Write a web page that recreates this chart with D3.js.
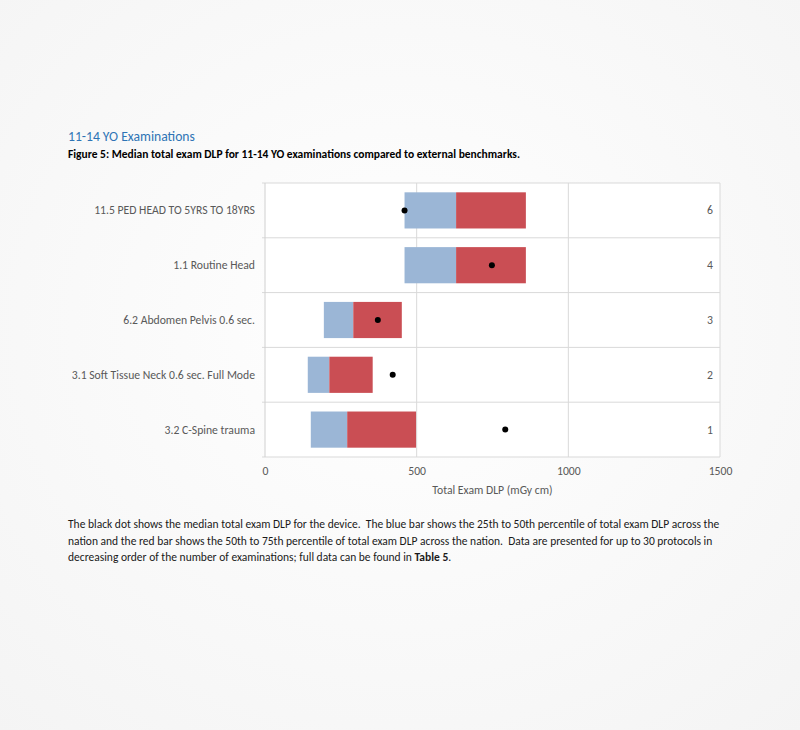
<!DOCTYPE html>
<html>
<head>
<meta charset="utf-8">
<script src="https://cdn.jsdelivr.net/npm/d3@7"></script>
<style>
html,body{margin:0;padding:0;background:#fafafa;}
svg{display:block;}
</style>
</head>
<body>
<svg id="c" width="800" height="730"></svg>
<script>
const categories = ["11.5 PED HEAD TO 5YRS TO 18YRS","1.1 Routine Head","6.2 Abdomen Pelvis 0.6 sec.","3.1 Soft Tissue Neck 0.6 sec. Full Mode","3.2 C-Spine trauma"];
const p25 = [460, 460, 194, 141, 151];
const p50 = [630, 630, 291, 212, 271];
const p75 = [860, 860, 451, 355, 498];
const medianDevice = [460, 748, 372, 421, 792];
const counts = [6, 4, 3, 2, 1];
const xTicks = [0, 500, 1000, 1500];

(function(){
const FONT = "Carlito, Calibri, 'Open Sans', 'Noto Sans', sans-serif";
const CFS = 11.7;
const svg = d3.select("#c");

const defs = svg.append("defs");
const rg = defs.append("radialGradient").attr("id","bg").attr("cx","50%").attr("cy","45%").attr("r","75%");
rg.append("stop").attr("offset","0%").attr("stop-color","#ffffff");
rg.append("stop").attr("offset","100%").attr("stop-color","#f4f4f4");
svg.append("rect").attr("width",800).attr("height",730).attr("fill","url(#bg)");

function fit(sel, w){
  const n = sel.node();
  const fs = parseFloat(sel.attr("font-size"));
  const m = n.getComputedTextLength();
  let nf = fs;
  if (m > 0) { nf = fs * w / m; sel.attr("font-size", nf.toFixed(2)); }
  return nf;
}

// headings
fit(svg.append("text").attr("x",68).attr("y",141).attr("font-family",FONT).attr("font-size",13)
  .attr("fill","#2e74b5").text("11-14 YO Examinations"), 127);
fit(svg.append("text").attr("x",68).attr("y",158).attr("font-family",FONT).attr("font-size",11)
  .attr("font-weight","bold").attr("fill","#000").text("Figure 5: Median total exam DLP for 11-14 YO examinations compared to external benchmarks."), 452);

const pL = 265, pR = 720, pT = 183, pB = 457;
const x = d3.scaleLinear().domain([0,1500]).range([pL,pR]);
const y = d3.scaleBand().domain(categories).range([pT,pB]).paddingInner(0.34).paddingOuter(0.17);
const rowH = (pB-pT)/categories.length;

const g = svg.append("g");
g.append("rect").attr("x",pL).attr("y",pT).attr("width",pR-pL).attr("height",pB-pT).attr("fill","#fff");

// vertical gridlines
g.selectAll(".vg").data(xTicks.slice(1)).enter().append("line")
  .attr("x1",d=>x(d)).attr("x2",d=>x(d)).attr("y1",pT).attr("y2",pB)
  .attr("stroke","#d9d9d9").attr("stroke-width",1);
// horizontal category lines
const bounds = d3.range(categories.length+1).map(i=>pT+i*rowH);
g.selectAll(".hg").data(bounds).enter().append("line")
  .attr("x1",pL-3).attr("x2",pR).attr("y1",d=>d).attr("y2",d=>d)
  .attr("stroke","#d9d9d9").attr("stroke-width",1);
// axis line
g.append("line").attr("x1",pL).attr("x2",pL).attr("y1",pT).attr("y2",pB).attr("stroke","#d0d0d0");

// bars
g.selectAll(".b1").data(categories).enter().append("rect")
  .attr("x",(d,i)=>x(p25[i])).attr("width",(d,i)=>x(p50[i])-x(p25[i]))
  .attr("y",d=>y(d)).attr("height",y.bandwidth()).attr("fill","#9bb6d6");
g.selectAll(".b2").data(categories).enter().append("rect")
  .attr("x",(d,i)=>x(p50[i])).attr("width",(d,i)=>x(p75[i])-x(p50[i]))
  .attr("y",d=>y(d)).attr("height",y.bandwidth()).attr("fill","#ca4e54");
// dots
g.selectAll(".dot").data(categories).enter().append("circle")
  .attr("cx",(d,i)=>x(medianDevice[i])).attr("cy",d=>y(d)+y.bandwidth()/2).attr("r",3).attr("fill","#000");

// category labels
g.selectAll(".cl").data(categories).enter().append("text")
  .attr("x",255).attr("y",d=>y(d)+y.bandwidth()/2+4).attr("text-anchor","end")
  .attr("font-family",FONT).attr("font-size",CFS).attr("fill","#595959").text(d=>d);
// counts
g.selectAll(".cn").data(categories).enter().append("text")
  .attr("x",713).attr("y",d=>y(d)+y.bandwidth()/2+4).attr("text-anchor","end")
  .attr("font-family",FONT).attr("font-size",CFS).attr("fill","#595959").text((d,i)=>counts[i]);

// x axis
const xa = g.append("g").attr("transform",`translate(0,${pB})`)
  .call(d3.axisBottom(x).tickValues(xTicks).tickFormat(d3.format("d")).tickSize(0).tickPadding(10));
xa.select(".domain").remove();
xa.selectAll("text").attr("font-family",FONT).attr("font-size",CFS).attr("fill","#595959");
g.append("text").attr("x",(pL+pR)/2).attr("y",494).attr("text-anchor","middle")
  .attr("font-family",FONT).attr("font-size",CFS).attr("fill","#595959").text("Total Exam DLP (mGy cm)");

// caption
const cap = [
  ["The black dot shows the median total exam DLP for the device.  The blue bar shows the 25th to 50th percentile of total exam DLP across the"],
  ["nation and the red bar shows the 50th to 75th percentile of total exam DLP across the nation.  Data are presented for up to 30 protocols in"],
  ["decreasing order of the number of examinations; full data can be found in ","Table 5","."]
];
const texts = cap.map((c,i)=>{
  const t = svg.append("text").attr("x",68).attr("y",528+i*16.5).attr("font-family",FONT).attr("font-size",11).attr("fill","#1a1a1a").attr("xml:space","preserve");
  c.forEach((s,j)=>{ t.append("tspan").attr("font-weight", j===1?"bold":"normal").text(s); });
  return t;
});
const fs = fit(texts[0], 652);
texts.forEach(t=>t.attr("font-size", fs.toFixed(2)));
})();
</script>
</body>
</html>
